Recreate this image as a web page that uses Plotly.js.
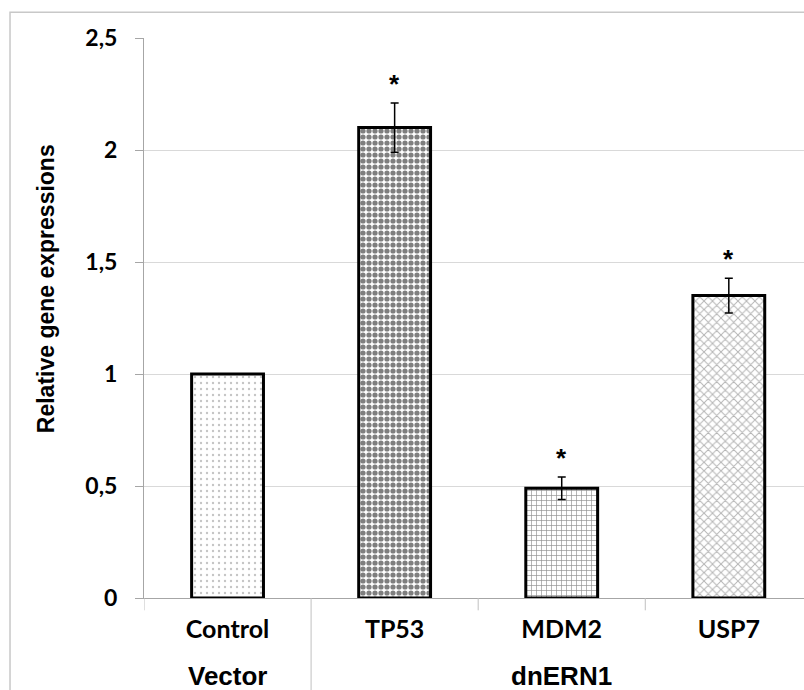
<!DOCTYPE html>
<html>
<head>
<meta charset="utf-8">
<script src="https://cdn.plot.ly/plotly-3.0.1.min.js"></script>
<style>
html,body{margin:0;padding:0;background:#fff;}
#chart{width:804px;height:690px;}
</style>
</head>
<body>
<div id="chart"></div>
<script>
// Data
var groupNames = ["Vector", "dnERN1"];
var groupOf = [0, 1, 1, 1];
var genes = ["Control", "TP53", "MDM2", "USP7"];
var values = [1.0, 2.1, 0.49, 1.35];
var errors = [0, 0.11, 0.05, 0.078];
var significant = [false, true, true, true];
var yTickVals = [0, 0.5, 1, 1.5, 2, 2.5];
var yTickText = ["0", "0,5", "1", "1,5", "2", "2,5"];
var yTitle = "Relative gene expressions";

var patterns = [
  {shape: ".", fgcolor: "#8a8a8a", bgcolor: "#ffffff", size: 6, solidity: 0.12, fillmode: "overlay"},
  {shape: ".", fgcolor: "#000000", bgcolor: "#ffffff", size: 6, solidity: 0.6, fillmode: "overlay"},
  {shape: "+", fgcolor: "#222222", bgcolor: "#ffffff", size: 5, solidity: 0.25, fillmode: "overlay"},
  {shape: "x", fgcolor: "#6a6a6a", bgcolor: "#ffffff", size: 6, solidity: 0.3, fillmode: "overlay"}
];

var idx = genes.map(function(g, i) { return i; });

var traces = genes.map(function(g, i) {
  var t = {
    type: "bar",
    x: [i],
    y: [values[i]],
    width: 0.43,
    marker: {color: "#ffffff", pattern: patterns[i], line: {color: "#000000", width: 3}},
    showlegend: false,
    hoverinfo: "y"
  };
  if (errors[i] > 0) {
    t.error_y = {type: "data", array: [errors[i]], visible: true, color: "#000000", thickness: 1.5, width: 4};
  }
  return t;
});

var annotations = [];
genes.forEach(function(g, i) {
  if (significant[i]) {
    annotations.push({
      x: i, xref: "x", y: values[i] + errors[i], yref: "y",
      text: "<b>*</b>", showarrow: false, yanchor: "bottom", yshift: 2,
      font: {family: "Liberation Sans, Arial, sans-serif", size: 26, color: "#000"}
    });
  }
});
// group labels centred under their members
groupNames.forEach(function(name, gi) {
  var members = idx.filter(function(i) { return groupOf[i] === gi; });
  var c = members.reduce(function(a, b) { return a + b; }, 0) / members.length;
  annotations.push({
    x: c, xref: "x", y: -0.139, yref: "paper",
    text: "<b>" + name + "</b>", showarrow: false, yanchor: "middle",
    font: {family: "Liberation Sans, Arial, sans-serif", size: 26, color: "#000"}
  });
});
// y title
annotations.push({
  x: -0.148, xref: "paper", y: 0.552, yref: "paper",
  text: "<b>" + yTitle + "</b>", showarrow: false, textangle: -90,
  xanchor: "center", yanchor: "middle",
  font: {family: "Liberation Sans, Arial, sans-serif", size: 23, color: "#000"}
});

// divider lines between groups
var shapes = [];
for (var i = 1; i < genes.length; i++) {
  if (groupOf[i] !== groupOf[i - 1]) {
    shapes.push({type: "line", xref: "x", yref: "paper", x0: i - 0.5, x1: i - 0.5, y0: 0, y1: -0.2,
      line: {color: "#c0c0c0", width: 1}});
  }
}
shapes.push({
  type: "rect", xref: "paper", yref: "paper",
  x0: -0.203, x1: 1.05, y0: -0.3, y1: 1.046,
  line: {color: "#c8c8c8", width: 1.5}, fillcolor: "rgba(0,0,0,0)", layer: "below"
});

var layout = {
  width: 804, height: 690,
  margin: {l: 144, r: 0, t: 38, b: 92},
  paper_bgcolor: "#ffffff", plot_bgcolor: "#ffffff",
  separators: ",.",
  xaxis: {
    type: "linear",
    range: [-0.5, 3.45],
    tickvals: idx, ticktext: genes,
    showline: true, linecolor: "#a6a6a6", linewidth: 1,
    ticks: "", showgrid: false, zeroline: false,
    ticklabelstandoff: 9,
    tickfont: {family: "Lato, Carlito, Calibri, sans-serif", size: 25, color: "#000", weight: "bold"},
    fixedrange: true
  },
  yaxis: {
    range: [0, 2.5],
    tickvals: yTickVals, ticktext: yTickText,
    showline: true, linecolor: "#a6a6a6", linewidth: 1,
    ticks: "outside", tickcolor: "#a6a6a6", ticklen: 8,
    ticklabelstandoff: 13,
    showgrid: true, gridcolor: "#d9d9d9", gridwidth: 1,
    zeroline: false,
    tickfont: {family: "Lato, Carlito, Calibri, sans-serif", size: 23, color: "#000", weight: "bold"},
    fixedrange: true
  },
  annotations: annotations,
  shapes: shapes
};

// short boundary ticks under the x axis
for (var k = 0; k < genes.length; k++) {
  var b = k - 0.5;
  var isDivider = k > 0 && groupOf[k] !== groupOf[k - 1];
  if (!isDivider) {
    layout.shapes.push({type: "line", xref: "x", yref: "paper", x0: b, x1: b, y0: 0, y1: -0.022,
      line: {color: "#c0c0c0", width: 1}});
  }
}

Plotly.newPlot("chart", traces, layout, {displayModeBar: false, staticPlot: true});
</script>
</body>
</html>
